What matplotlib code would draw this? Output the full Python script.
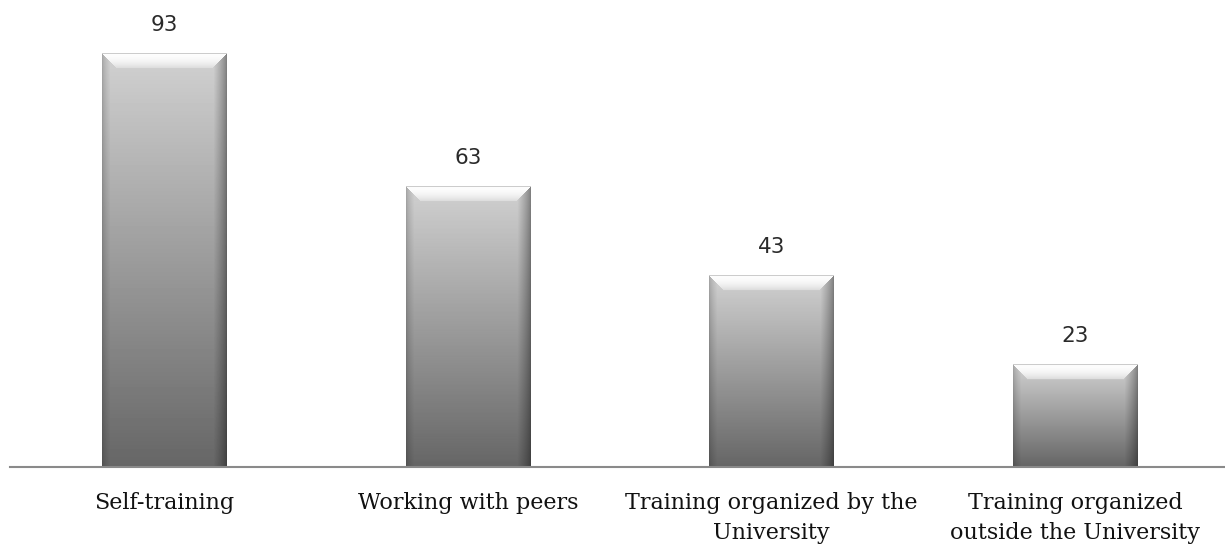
import numpy as np
import matplotlib.pyplot as plt

categories = ['Self-training', 'Working with peers',
              'Training organized by the\nUniversity',
              'Training organized\noutside the University']
values = [93, 63, 43, 23]

W, H, DPI = 1225, 546, 100
fig = plt.figure(figsize=(W / DPI, H / DPI), dpi=DPI)
ax = fig.add_axes([0, 79 / H, 1, 467 / H])

bar_w = 0.41
px_per_unit = 4.45


def bar_image(nx, ny):
    # grey body with a vertical gradient, a light top bevel and shaded sides
    i, j = np.mgrid[0:ny, 0:nx].astype(float)
    body = 0.82 - 0.42 * (i / max(ny - 1, 1))
    img = body.copy()
    dtop, dleft, dright = i, j, nx - 1 - j

    bl, br, bt = 8.0, 13.0, 15.0
    left = (dleft < bl) & (dleft < dtop)
    right = (dright < br) & (dright < dtop)
    top = (dtop < bt) & (dtop <= dleft) & (dtop <= dright)

    img[left] = body[left] * (0.80 + 0.20 * (dleft[left] / bl) ** 0.7)
    img[right] = body[right] * (0.62 + 0.38 * (dright[right] / br) ** 0.8)
    t = dtop[top] / bt
    img[top] = 0.99 - 0.14 * t ** 2
    img[0, :] = 0.80  # thin top rim
    return np.clip(img, 0, 1)


x = np.arange(len(values))
for xi, v in zip(x, values):
    ny = int(round(v * px_per_unit))
    img = bar_image(125, ny)
    ax.imshow(img, cmap='gray', vmin=0, vmax=1, interpolation='bilinear',
              extent=[xi - bar_w / 2, xi + bar_w / 2, 0, v], zorder=2)
    ax.text(xi, v + 4.1, str(v), ha='center', va='bottom',
            fontsize=15.5, color='#2a2a2a', family='DejaVu Sans')

ax.set_aspect('auto')
ax.set_xlim(-0.542, 3.493)
ax.set_ylim(0, 467 / px_per_unit)

for s in ['top', 'left', 'right']:
    ax.spines[s].set_visible(False)
ax.spines['bottom'].set_bounds(-0.51, 3.493)
ax.spines['bottom'].set_color('#8a8a8a')
ax.spines['bottom'].set_linewidth(1.5)
ax.spines['bottom'].set_zorder(3)

ax.set_yticks([])
ax.set_xticks(x)
ax.set_xticklabels(categories, fontsize=16, family='DejaVu Serif',
                   color='#111111', linespacing=1.45)
ax.tick_params(axis='x', length=0, pad=18)

fig.savefig('out.png', dpi=DPI)
